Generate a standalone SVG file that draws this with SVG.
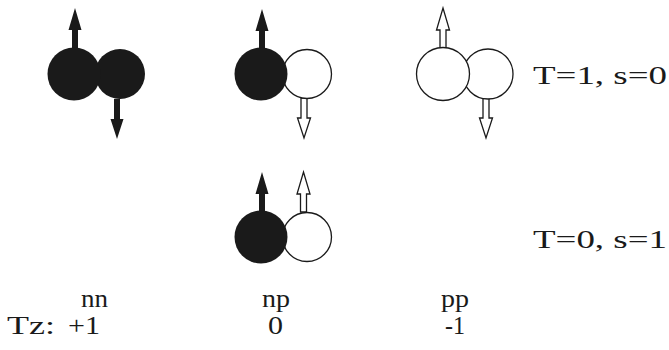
<svg xmlns="http://www.w3.org/2000/svg" width="669" height="350" viewBox="0 0 669 350">
<defs>
<style>
.blk{fill:#1a1a1a;stroke:none}
.wht{fill:#ffffff;stroke:#1a1a1a;stroke-width:1.3}
.t{font-size:25px;fill:#1a1a1a}
</style>
<polygon id="up" points="-3,40 -3,22 -6.5,22 0,0 6.5,22 3,22 3,40"/>
<polygon id="down" points="-3,-40 -3,-20 -6.5,-20 0,0 6.5,-20 3,-20 3,-40"/>
</defs>
<g id="nn-top">
<use href="#up" x="75" y="8" class="blk"/>
<use href="#down" x="117" y="139" class="blk"/>
<circle cx="120" cy="74" r="25" class="blk"/>
<circle cx="74" cy="74" r="26.5" class="blk"/>
</g>
<g id="np-top">
<use href="#up" x="262" y="9" class="blk"/>
<use href="#down" x="304" y="138" class="wht"/>
<circle cx="307" cy="74" r="24.5" class="wht"/>
<circle cx="261" cy="74" r="26.5" class="blk"/>
</g>
<g id="pp-top">
<use href="#up" x="443" y="8" class="wht"/>
<use href="#down" x="486" y="138" class="wht"/>
<circle cx="488" cy="74" r="25" class="wht"/>
<circle cx="443" cy="74" r="26.5" class="wht"/>
</g>
<g id="np-mid">
<use href="#up" x="262" y="172" class="blk"/>
<use href="#up" x="303.5" y="172" class="wht"/>
<circle cx="307" cy="237" r="24.5" class="wht"/>
<circle cx="261" cy="237" r="26.5" class="blk"/>
</g>
<g id="labels" font-family="Liberation Serif">
<text class="t" x="533" y="84" textLength="134" lengthAdjust="spacingAndGlyphs">T=1, s=0</text>
<text class="t" x="533" y="248" textLength="134" lengthAdjust="spacingAndGlyphs">T=0, s=1</text>
<text class="t" x="81" y="307" textLength="27" lengthAdjust="spacingAndGlyphs">nn</text>
<text class="t" x="262" y="307" textLength="28" lengthAdjust="spacingAndGlyphs">np</text>
<text class="t" x="441" y="307" textLength="28" lengthAdjust="spacingAndGlyphs">pp</text>
<text class="t" x="7" y="334" textLength="48" lengthAdjust="spacingAndGlyphs">Tz:</text>
<text class="t" x="68" y="334" textLength="32" lengthAdjust="spacingAndGlyphs">+1</text>
<text class="t" x="268" y="334" textLength="15" lengthAdjust="spacingAndGlyphs">0</text>
<text class="t" x="445" y="334" textLength="20" lengthAdjust="spacingAndGlyphs">-1</text>
</g>
<g id="connectors"/>
</svg>
